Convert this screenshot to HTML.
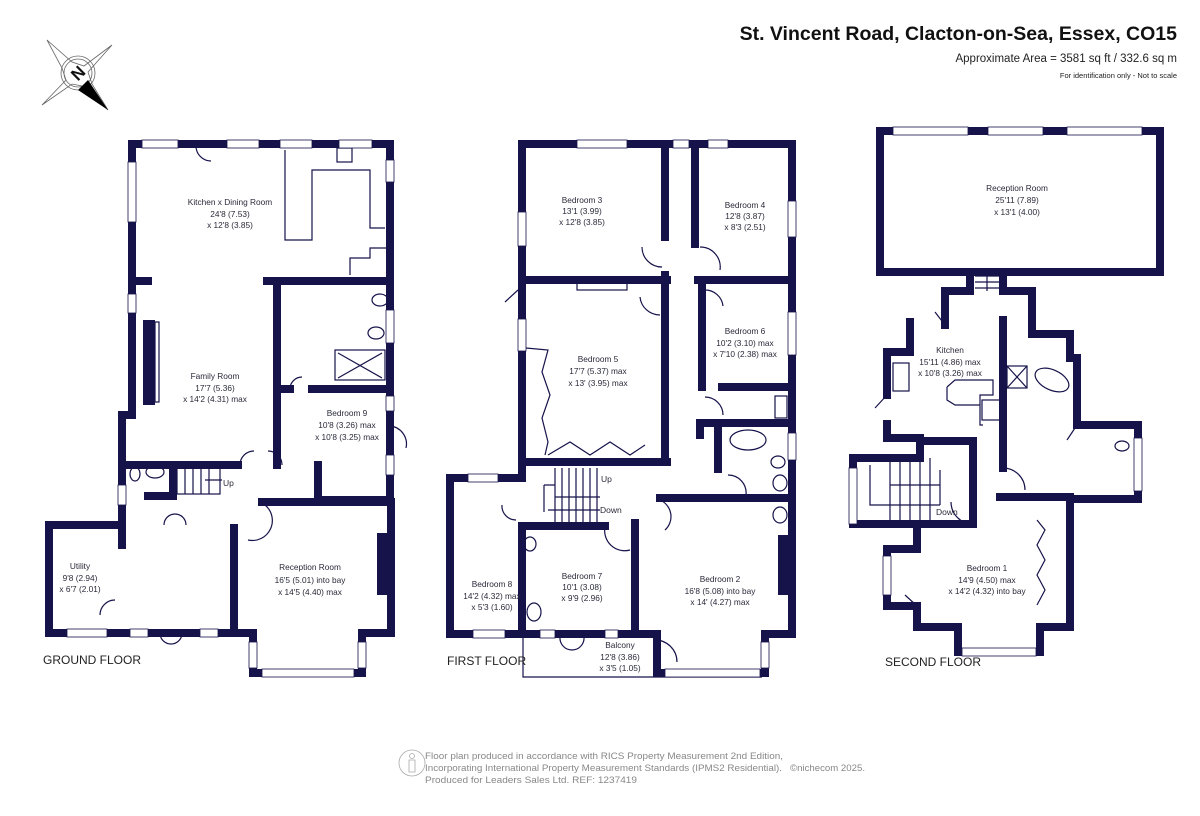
<!DOCTYPE html>
<html><head><meta charset="utf-8"><style>
html,body{margin:0;padding:0;background:#fff;}
svg{display:block;}
text{font-family:"Liberation Sans",sans-serif;fill:#2a2a3a;}
.l{font-size:8.3px;text-anchor:middle;}
.w{fill:none;stroke:#16134a;stroke-width:8;stroke-linejoin:miter;stroke-linecap:square;}
.t{fill:none;stroke:#16134a;stroke-width:1.2;}
.win{fill:#fff;stroke:#16134a;stroke-width:0.8;}
</style></head><body>
<svg width="1200" height="816" viewBox="0 0 1200 816" xmlns="http://www.w3.org/2000/svg">
<!-- header -->
<text x="1177" y="40" style="font-size:19.5px;font-weight:bold;text-anchor:end;fill:#111">St. Vincent Road, Clacton-on-Sea, Essex, CO15</text>
<text x="1177" y="62" style="font-size:11.5px;text-anchor:end;fill:#222">Approximate Area = 3581 sq ft / 332.6 sq m</text>
<text x="1177" y="78" style="font-size:7.5px;text-anchor:end;fill:#222">For identification only - Not to scale</text>
<!-- compass -->
<g stroke="#666" stroke-width="0.8" fill="none">
<polygon points="47,40 72,62 84,66 112,45 88,72 92,84 108,110 82,86 72,84 42,105 66,80 62,68"/>
<circle cx="78" cy="73" r="17"/><circle cx="78" cy="73" r="14"/>
</g>
<polygon points="88,80 108,110 78,90" fill="#000"/>
<text x="78" y="79" transform="rotate(-45 78 73)" style="font-size:17px;font-weight:bold;text-anchor:middle;fill:#111">N</text>

<!-- GROUND FLOOR -->
<path class="w" d="M390,144 V502 M391,502 V633 H362 V673 H253 V633 H234 M234,633 H49 V525 H122 V415 H132 V144 H390"/>
<path class="t" d="M253,673 H362"/>
<path class="w" d="M267,281 H390 M132,281 H148 M277,281 V465 M280,389 H290 M312,389 H390 M125,465 H238 M318,465 V500 H390 M262,502 H388 M234,528 V633 M173,466 V496 H148 M49,525 H122 M122,525 V545"/>
<rect x="177" y="466" width="43" height="28" class="t"/>
<path class="t" d="M185,466 V494 M193,466 V494 M201,466 V494 M209,466 V494 M205,480 H222"/>
<rect x="143" y="320" width="12" height="85" fill="#16134a"/><rect x="155" y="322" width="4" height="80" class="t"/>
<rect x="377" y="533" width="11" height="62" fill="#16134a"/>
<path class="t" d="M285,150 V240 H312 V170 H370 V228 H385 M350,275 V258 H370 V248 H388"/>
<rect x="337" y="148" width="15" height="14" class="t"/>
<rect x="335" y="350" width="50" height="30" class="t"/><path class="t" d="M338,353 L382,378 M382,353 L338,378"/>
<ellipse cx="380" cy="300" rx="8" ry="6" class="t"/><ellipse cx="376" cy="333" rx="8" ry="6" class="t"/>
<ellipse cx="135" cy="474" rx="5" ry="7" class="t"/><ellipse cx="155" cy="472" rx="9" ry="6" class="t"/>
<path class="t" d="M196,146 A15,15 0 0 0 211,161 M240,465 A14,14 0 0 1 254,451 M268,451 A14,14 0 0 1 282,465 M390,426 A18,18 0 0 1 406,448 M290,389 A12,12 0 0 1 302,377 M164,525 A11,11 0 0 1 175,514 M186,525 A11,11 0 0 0 175,514 M248,540 A20,20 0 0 0 265,505 M100,615 A15,15 0 0 1 115,600 M160,633 A11,11 0 0 0 171,644 M182,633 A11,11 0 0 1 171,644"/>
<rect x="142" y="140" width="36" height="8" class="win"/><rect x="227" y="140" width="32" height="8" class="win"/><rect x="280" y="140" width="32" height="8" class="win"/><rect x="339" y="140" width="33" height="8" class="win"/>
<rect x="128" y="162" width="8" height="60" class="win"/><rect x="128" y="294" width="8" height="19" class="win"/><rect x="118" y="485" width="8" height="20" class="win"/>
<rect x="386" y="160" width="8" height="22" class="win"/><rect x="386" y="310" width="8" height="33" class="win"/><rect x="386" y="396" width="8" height="15" class="win"/><rect x="386" y="455" width="8" height="20" class="win"/>
<rect x="67" y="629" width="40" height="8" class="win"/><rect x="130" y="629" width="18" height="8" class="win"/><rect x="200" y="629" width="18" height="8" class="win"/>
<rect x="249" y="642" width="8" height="26" class="win"/><rect x="358" y="642" width="8" height="26" class="win"/><rect x="262" y="669" width="92" height="8" class="win"/>
<text class="l" x="230" y="205">Kitchen x Dining Room</text><text class="l" x="230" y="217">24'8 (7.53)</text><text class="l" x="230" y="228">x 12'8 (3.85)</text>
<text class="l" x="215" y="379">Family Room</text><text class="l" x="215" y="391">17'7 (5.36)</text><text class="l" x="215" y="402">x 14'2 (4.31) max</text>
<text class="l" x="347" y="416">Bedroom 9</text><text class="l" x="347" y="428">10'8 (3.26) max</text><text class="l" x="347" y="440">x 10'8 (3.25) max</text>
<text class="l" x="310" y="570">Reception Room</text><text class="l" x="310" y="583">16'5 (5.01) into bay</text><text class="l" x="310" y="595">x 14'5 (4.40) max</text>
<text class="l" x="80" y="569">Utility</text><text class="l" x="80" y="581">9'8 (2.94)</text><text class="l" x="80" y="592">x 6'7 (2.01)</text>
<text x="223" y="486" style="font-size:8.5px">Up</text>
<text x="43" y="664" style="font-size:12px;fill:#222">GROUND FLOOR</text>

<!-- FIRST FLOOR -->
<path class="w" d="M522,478 V144 H792 V634 H765 V673 H657 V634 H450 V478 H522"/>
<path class="t" d="M523,637 V677 H762"/>
<path class="w" d="M522,280 H667 M698,280 H792 M665,144 V237 M665,275 V462 M695,144 V244 M702,283 V387 M727,387 H792 M700,423 H792 M718,426 V469 M700,423 V435 M522,462 H667 M660,498 H792 M522,526 H605 M635,523 V634 M522,526 V634"/>
<rect x="718" y="383" width="54" height="8" fill="#16134a"/>
<rect x="778" y="535" width="12" height="60" fill="#16134a"/>
<path class="t" d="M555,468 V526 M562,468 V526 M569,468 V526 M576,468 V526 M583,468 V526 M590,468 V526 M597,468 V526 M555,497 H600 M544,485 H555 V512 M544,485 V512 M548,510 H600"/>
<path class="t" d="M526,348 L548,350 L542,372 L550,395 L542,418 L548,442 L545,455 M548,455 L570,442 L590,455 L610,442 L630,455 L645,445"/>
<rect x="577" y="282" width="50" height="8" class="t"/>
<ellipse cx="748" cy="440" rx="18" ry="10" class="t"/><ellipse cx="778" cy="462" rx="7" ry="6" class="t"/><ellipse cx="780" cy="483" rx="7" ry="8" class="t"/><ellipse cx="780" cy="515" rx="7" ry="8" class="t"/>
<rect x="775" y="396" width="12" height="22" class="t"/>
<ellipse cx="530" cy="544" rx="6" ry="7" class="t"/><ellipse cx="534" cy="612" rx="7" ry="9" class="t"/>
<path class="t" d="M642,247 A20,20 0 0 0 662,267 M700,247 A20,20 0 0 1 720,270 M640,297 A20,20 0 0 0 660,315 M705,290 A18,18 0 0 1 723,306 M705,397 A18,18 0 0 1 723,415 M728,475 A18,18 0 0 1 746,495 M518,290 L505,302 M660,500 A18,18 0 0 1 665,530 M605,527 A20,20 0 0 0 630,550 M502,505 A14,14 0 0 0 516,520 M560,637 A12,12 0 0 0 572,650 M584,637 A12,12 0 0 1 572,650 M655,640 A22,22 0 0 1 677,662"/>
<rect x="577" y="140" width="50" height="8" class="win"/><rect x="673" y="140" width="16" height="8" class="win"/><rect x="708" y="140" width="20" height="8" class="win"/>
<rect x="518" y="212" width="8" height="34" class="win"/><rect x="518" y="319" width="8" height="32" class="win"/>
<rect x="788" y="201" width="8" height="36" class="win"/><rect x="788" y="312" width="8" height="43" class="win"/><rect x="788" y="433" width="8" height="27" class="win"/>
<rect x="468" y="474" width="30" height="8" class="win"/><rect x="473" y="630" width="32" height="8" class="win"/><rect x="540" y="630" width="15" height="8" class="win"/><rect x="605" y="630" width="13" height="8" class="win"/>
<rect x="761" y="642" width="8" height="26" class="win"/><rect x="665" y="669" width="95" height="8" class="win"/>
<text class="l" x="582" y="203">Bedroom 3</text><text class="l" x="582" y="214">13'1 (3.99)</text><text class="l" x="582" y="225">x 12'8 (3.85)</text>
<text class="l" x="745" y="208">Bedroom 4</text><text class="l" x="745" y="219">12'8 (3.87)</text><text class="l" x="745" y="230">x 8'3 (2.51)</text>
<text class="l" x="745" y="334">Bedroom 6</text><text class="l" x="745" y="346">10'2 (3.10) max</text><text class="l" x="745" y="357">x 7'10 (2.38) max</text>
<text class="l" x="598" y="362">Bedroom 5</text><text class="l" x="598" y="374">17'7 (5.37) max</text><text class="l" x="598" y="386">x 13' (3.95) max</text>
<text class="l" x="492" y="587">Bedroom 8</text><text class="l" x="492" y="599">14'2 (4.32) max</text><text class="l" x="492" y="610">x 5'3 (1.60)</text>
<text class="l" x="582" y="579">Bedroom 7</text><text class="l" x="582" y="590">10'1 (3.08)</text><text class="l" x="582" y="601">x 9'9 (2.96)</text>
<text class="l" x="720" y="582">Bedroom 2</text><text class="l" x="720" y="594">16'8 (5.08) into bay</text><text class="l" x="720" y="605">x 14' (4.27) max</text>
<text class="l" x="620" y="648">Balcony</text><text class="l" x="620" y="660">12'8 (3.86)</text><text class="l" x="620" y="671">x 3'5 (1.05)</text>
<text x="601" y="482" style="font-size:8.5px">Up</text><text x="600" y="513" style="font-size:8.5px">Down</text>
<text x="447" y="665" style="font-size:12px;fill:#222">FIRST FLOOR</text>

<!-- SECOND FLOOR -->
<rect x="880" y="131" width="280" height="141" class="w"/>
<path class="w" d="M970,272 V291 M1003,272 V291 M945,291 V325 M910,322 V352 H887 V395 M887,424 V438 H920 V458 H853 V524 H970 M917,524 V549 H887 V606 H917 V627 H958 V652 M1040,652 V627 H1070 V499 H1138 V425 H1077 V358 H1070 V334 H1032 V291 H1007 M945,291 H970 M1003,320 V468 M1000,497 H1070 M973,441 V524 M920,441 H973"/>
<path class="t" d="M958,652 H1040 M975,276 H1000 M975,282 H1000 M975,288 H1000 M987,272 V291"/>
<path class="t" d="M890,458 V524 M900,458 V524 M910,458 V524 M920,458 V524 M930,458 V524 M870,465 V505 H940 M940,470 V505 M890,485 H940"/>
<rect x="893" y="363" width="16" height="28" class="t"/><path class="t" d="M947,387 L955,380 H993 V395 H980 V425 H983 M947,387 V400 L955,405 H980"/>
<rect x="982" y="400" width="18" height="20" class="t"/>
<rect x="1007" y="366" width="20" height="22" class="t"/><path class="t" d="M1007,366 L1027,388 M1027,366 L1007,388"/>
<ellipse cx="1052" cy="380" rx="18" ry="10" class="t" transform="rotate(25 1052 380)"/>
<ellipse cx="1122" cy="446" rx="7" ry="5" class="t"/>
<path class="t" d="M1037,520 L1045,530 L1037,545 L1045,560 L1037,575 L1045,590 L1037,605"/>
<path class="t" d="M945,325 L935,312 M887,395 L875,408 M1003,468 A22,22 0 0 1 1025,490 M973,524 A22,22 0 0 1 951,502 M917,606 L905,595 M1077,425 L1067,440"/>
<rect x="893" y="127" width="75" height="8" class="win"/><rect x="988" y="127" width="55" height="8" class="win"/><rect x="1067" y="127" width="75" height="8" class="win"/>
<rect x="849" y="468" width="8" height="56" class="win"/><rect x="883" y="556" width="8" height="39" class="win"/><rect x="1134" y="438" width="8" height="53" class="win"/><rect x="962" y="648" width="74" height="8" class="win"/>
<text class="l" x="1017" y="191">Reception Room</text><text class="l" x="1017" y="203">25'11 (7.89)</text><text class="l" x="1017" y="215">x 13'1 (4.00)</text>
<text class="l" x="950" y="353">Kitchen</text><text class="l" x="950" y="365">15'11 (4.86) max</text><text class="l" x="950" y="376">x 10'8 (3.26) max</text>
<text class="l" x="987" y="571">Bedroom 1</text><text class="l" x="987" y="583">14'9 (4.50) max</text><text class="l" x="987" y="594">x 14'2 (4.32) into bay</text>
<text x="936" y="515" style="font-size:8.5px">Down</text>
<text x="885" y="666" style="font-size:12px;fill:#222">SECOND FLOOR</text>

<!-- footer -->
<g fill="none" stroke="#aaa" stroke-width="0.8"><circle cx="412" cy="763" r="13"/><circle cx="412" cy="756" r="2.5"/><path d="M409,760 V772 H415 V760 Z"/></g>
<text x="425" y="759" textLength="358" lengthAdjust="spacingAndGlyphs" style="font-size:9.5px;fill:#888">Floor plan produced in accordance with RICS Property Measurement 2nd Edition,</text>
<text x="425" y="771" textLength="357" lengthAdjust="spacingAndGlyphs" style="font-size:9.5px;fill:#888">Incorporating International Property Measurement Standards (IPMS2 Residential).</text>
<text x="790" y="771" textLength="75" lengthAdjust="spacingAndGlyphs" style="font-size:9.5px;fill:#888">©nichecom 2025.</text>
<text x="425" y="783" textLength="212" lengthAdjust="spacingAndGlyphs" style="font-size:9.5px;fill:#888">Produced for Leaders Sales Ltd.   REF:  1237419</text>
</svg>
</body></html>
